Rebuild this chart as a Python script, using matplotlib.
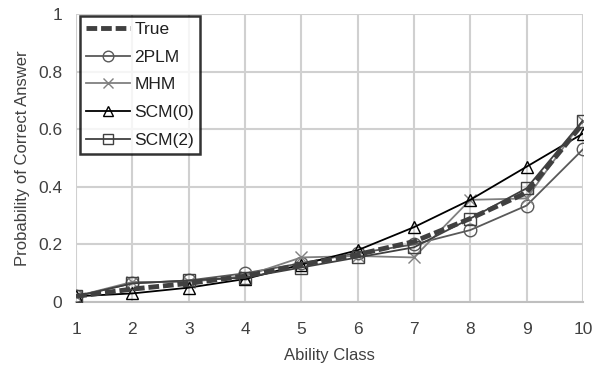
import matplotlib
matplotlib.use("Agg")
import matplotlib.pyplot as plt

classes = [1, 2, 3, 4, 5, 6, 7, 8, 9, 10]
true_vals = [0.02, 0.045, 0.065, 0.09, 0.13, 0.165, 0.21, 0.29, 0.38, 0.62]
plm2 = [0.02, 0.065, 0.075, 0.10, 0.135, 0.17, 0.20, 0.25, 0.335, 0.53]
mhm = [0.02, 0.07, 0.07, 0.09, 0.155, 0.16, 0.155, 0.355, 0.36, 0.63]
scm0 = [0.02, 0.03, 0.05, 0.08, 0.13, 0.18, 0.26, 0.355, 0.47, 0.585]
scm2 = [0.02, 0.065, 0.075, 0.085, 0.12, 0.155, 0.19, 0.29, 0.395, 0.63]
yticks = [0, 0.2, 0.4, 0.6, 0.8, 1]
ytick_labels = ["0", "0.2", "0.4", "0.6", "0.8", "1"]

plt.rcParams['font.family'] = ['Liberation Sans', 'DejaVu Sans']

fig = plt.figure(figsize=(5.99, 3.72), dpi=100)
ax = fig.add_axes([0.127, 0.188, 0.846, 0.774])

ax.plot(classes, true_vals, color='#404040', lw=3.5, ls=(0, (2.2, 0.8)), label='True', zorder=5)
ax.plot(classes, plm2, color='#595959', lw=1.3, marker='o', ms=9, mfc='none', mec='#595959', label='2PLM', zorder=4)
ax.plot(classes, mhm, color='#808080', lw=1.3, marker='x', ms=9, mec='#808080', label='MHM', zorder=4)
ax.plot(classes, scm0, color='#000000', lw=1.3, marker='^', ms=9, mfc='none', mec='#000000', label='SCM(0)', zorder=4)
ax.plot(classes, scm2, color='#404040', lw=1.3, marker='s', ms=9, mfc='none', mec='#404040', label='SCM(2)', zorder=4)

ax.set_xlim(1, 10)
ax.set_ylim(0, 1)
ax.set_xticks(classes)
ax.set_yticks(yticks)
ax.set_yticklabels(ytick_labels)
ax.tick_params(axis='x', length=0, labelsize=12.5, colors='#404040', pad=14)
ax.tick_params(axis='y', length=0, labelsize=12.5, colors='#404040', pad=10)
ax.grid(True, color='#d0d0d0', lw=1.5)
ax.set_axisbelow(True)
for s in ['top', 'right', 'left']:
    ax.spines[s].set_visible(False)
ax.spines['bottom'].set_color('#bfbfbf')
ax.spines['bottom'].set_linewidth(1.5)

ax.set_xlabel('Ability Class', fontsize=12, color='#404040', labelpad=8)
ax.set_ylabel('Probability of Correct Answer', fontsize=12, color='#404040', labelpad=6)

leg = ax.legend(loc='upper left', bbox_to_anchor=(0.005, 1.0), fontsize=12.5, frameon=True,
                fancybox=False, handlelength=2.5, borderpad=0.35, labelspacing=0.72,
                handletextpad=0.25, borderaxespad=0.1, markerscale=0.85)
leg.get_frame().set_edgecolor('black')
leg.get_frame().set_linewidth(1.8)
for t in leg.get_texts():
    t.set_color('#202020')

fig.savefig('out.png', dpi=100)
